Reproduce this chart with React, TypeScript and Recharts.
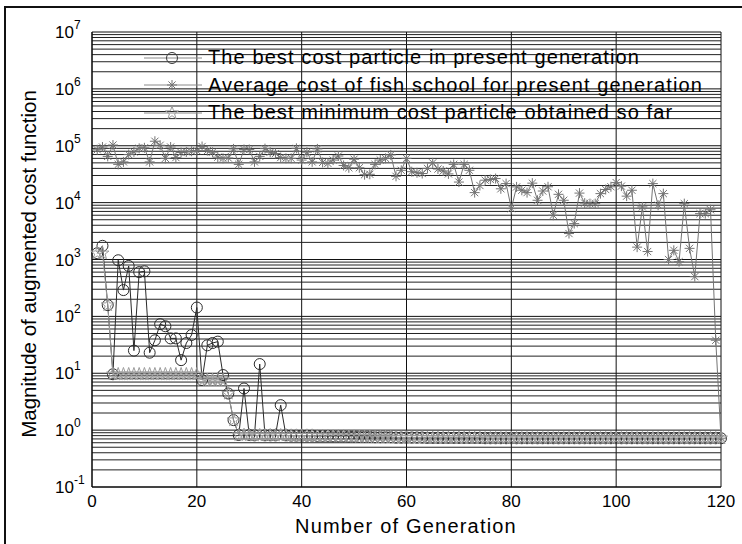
import React from "react";
import {
  LineChart,
  Line,
  XAxis,
  YAxis,
  CartesianGrid,
  ReferenceLine,
  Legend,
  Label
} from "recharts";

const FONT = '"Liberation Sans", Arial, Helvetica, sans-serif';

// generation index 1..120
const generations = Array.from({ length: 120 }, (_, i) => i + 1);

// best cost particle in each generation
const bestInGeneration = [
  1290, 1740, 158, 9.6, 970, 290, 770, 25, 600, 620,
  23, 38, 73, 67, 41, 41, 17, 34, 47, 143,
  7.6, 31, 34, 36, 9.3, 4.4, 1.5, 0.82, 5.4, 0.82,
  0.81, 14.5, 0.81, 0.81, 0.81, 2.75, 0.81, 0.8, 0.8, 0.8,
  0.8, 0.8, 0.79, 0.79, 0.79, 0.78, 0.78, 0.78, 0.77, 0.77,
  0.76, 0.76, 0.76, 0.75, 0.75, 0.75, 0.75, 0.74, 0.74, 0.74,
  0.74, 0.74, 0.74, 0.73, 0.73, 0.73, 0.73, 0.73, 0.73, 0.73,
  0.73, 0.73, 0.73, 0.73, 0.72, 0.72, 0.72, 0.72, 0.72, 0.72,
  0.72, 0.72, 0.72, 0.72, 0.72, 0.72, 0.72, 0.72, 0.72, 0.72,
  0.72, 0.72, 0.72, 0.72, 0.72, 0.72, 0.72, 0.72, 0.72, 0.72,
  0.72, 0.72, 0.72, 0.72, 0.72, 0.72, 0.72, 0.72, 0.72, 0.72,
  0.72, 0.72, 0.72, 0.72, 0.72, 0.72, 0.72, 0.72, 0.72, 0.72
];

// average cost of the fish school
const averageCost = [
  85000, 95000, 65000, 103000, 47000, 52000, 70000, 78000, 90000, 92000,
  52000, 120000, 102000, 60000, 95000, 62000, 76000, 78000, 80000, 82000,
  97000, 82000, 77000, 63000, 60000, 61000, 88000, 47000, 86000, 86000,
  52000, 65000, 89000, 77000, 73000, 62000, 60000, 60000, 90000, 56000,
  77000, 52000, 88000, 51000, 49000, 56000, 66000, 45000, 41000, 58000,
  41000, 31000, 31500, 47000, 56000, 60000, 69000, 29000, 37000, 60000,
  35000, 33500, 32500, 40000, 50000, 39000, 36000, 32000, 47000, 23000,
  47000, 37000, 15000, 20000, 24800, 25500, 26500, 17500, 21600, 7850,
  18900, 16500, 15000, 22000, 11000, 16000, 19000, 6000, 14000, 11000,
  2860, 4280, 14700, 9800, 9600, 9600, 14400, 17000, 19000, 22500,
  19500, 13000, 16500, 1650, 8400, 1380, 21600, 9000, 14400, 1000,
  1450, 915, 9600, 1570, 500, 6400, 6400, 7500, 38, 0.72
];

// best minimum cost obtained so far
const bestSoFar = [
  1290, 1290, 158, 9.6, 9.6, 9.6, 9.6, 9.6, 9.6, 9.6,
  9.6, 9.6, 9.6, 9.6, 9.6, 9.6, 9.6, 9.6, 9.6, 9.6,
  7.6, 7.6, 7.6, 7.6, 7.6, 4.4, 1.5, 0.82, 0.82, 0.82,
  0.81, 0.81, 0.81, 0.81, 0.81, 0.81, 0.81, 0.8, 0.8, 0.8,
  0.8, 0.8, 0.79, 0.79, 0.79, 0.78, 0.78, 0.78, 0.77, 0.77,
  0.76, 0.76, 0.76, 0.75, 0.75, 0.75, 0.75, 0.74, 0.74, 0.74,
  0.74, 0.74, 0.74, 0.73, 0.73, 0.73, 0.73, 0.73, 0.73, 0.73,
  0.73, 0.73, 0.73, 0.73, 0.72, 0.72, 0.72, 0.72, 0.72, 0.72,
  0.72, 0.72, 0.72, 0.72, 0.72, 0.72, 0.72, 0.72, 0.72, 0.72,
  0.72, 0.72, 0.72, 0.72, 0.72, 0.72, 0.72, 0.72, 0.72, 0.72,
  0.72, 0.72, 0.72, 0.72, 0.72, 0.72, 0.72, 0.72, 0.72, 0.72,
  0.72, 0.72, 0.72, 0.72, 0.72, 0.72, 0.72, 0.72, 0.72, 0.72
];

const xTicks = [0, 20, 40, 60, 80, 100, 120];
const yTicks = [1e-1, 1e0, 1e1, 1e2, 1e3, 1e4, 1e5, 1e6, 1e7];

const seriesNames = [
  "The best cost particle in present generation",
  "Average cost of fish school for present generation",
  "The best minimum cost particle obtained so far"
];

const data = generations.map((gen, i) => ({
  gen,
  best: bestInGeneration[i],
  avg: averageCost[i],
  sofar: bestSoFar[i]
}));

// minor log grid: 2..9 x 10^k inside each decade
const minorGrid: number[] = [];
for (let k = -1; k < 7; k++) {
  for (let m = 2; m <= 9; m++) minorGrid.push(m * Math.pow(10, k));
}

const COLORS = { best: "#2a2a2a", avg: "#747474", sofar: "#9c9c9c" };

const asteriskPath = (cx: number, cy: number, r = 5, d = 3.6) =>
  `M${cx - r},${cy}H${cx + r}M${cx},${cy - r}V${cy + r}` +
  `M${cx - d},${cy - d}L${cx + d},${cy + d}M${cx - d},${cy + d}L${cx + d},${cy - d}`;

const pentagramPath = (cx: number, cy: number, R = 6.8, r = 2.7) => {
  let p = "";
  for (let i = 0; i < 10; i++) {
    const a = -Math.PI / 2 + (i * Math.PI) / 5;
    const rad = i % 2 === 0 ? R : r;
    p += `${i === 0 ? "M" : "L"}${cx + rad * Math.cos(a)},${cy + rad * Math.sin(a)}`;
  }
  return p + "Z";
};

const AsteriskDot = (props: any) => {
  const { cx, cy, index } = props;
  if (cx == null || cy == null) return <g key={index} />;
  return <path key={index} d={asteriskPath(cx, cy)} stroke={COLORS.avg} strokeWidth={1} fill="none" />;
};

const StarDot = (props: any) => {
  const { cx, cy, index } = props;
  if (cx == null || cy == null) return <g key={index} />;
  return <path key={index} d={pentagramPath(cx, cy)} stroke={COLORS.sofar} strokeWidth={1} fill="none" />;
};

const PowerTick = ({ y, payload }: any) => {
  const exp = Math.round(Math.log10(payload.value));
  return (
    <text x={55} y={y + 6} fontSize={17} fill="#000" fontFamily={FONT}>
      10
      <tspan dy={-9} fontSize={12}>{exp}</tspan>
    </text>
  );
};

const GenTick = ({ x, payload }: any) => (
  <text x={x} y={507} fontSize={17} fill="#000" textAnchor="middle" fontFamily={FONT}>
    {payload.value}
  </text>
);

const renderLegend = () => {
  const marks = [
    <circle cx={29} cy={10} r={5.5} stroke="#3a3a3a" fill="none" />,
    <path d={asteriskPath(29, 10)} stroke={COLORS.avg} fill="none" />,
    <path d={pentagramPath(29, 10)} stroke={COLORS.sofar} fill="none" />
  ];
  return (
    <div style={{ fontFamily: FONT, fontSize: 20, letterSpacing: "1.1px", color: "#000" }}>
      {seriesNames.map((name, i) => (
        <div key={name} style={{ display: "flex", alignItems: "center", height: 27.5, whiteSpace: "nowrap" }}>
          <svg width={60} height={20} style={{ display: "block" }}>
            <line x1={1} y1={10} x2={59} y2={10} stroke="#8a8a8a" strokeWidth={1} />
            {marks[i]}
          </svg>
          <span style={{ marginLeft: 5 }}>{name}</span>
        </div>
      ))}
    </div>
  );
};

export default function App() {
  return (
    <div style={{ position: "absolute", left: 0, top: 0, width: 742, height: 544, background: "#fff" }}>
      <LineChart
        width={742}
        height={544}
        data={data}
        margin={{ top: 32, right: 21, left: 32, bottom: 0 }}
      >
        <CartesianGrid stroke="#111" strokeWidth={1} />
        {minorGrid.map((v) => (
          <ReferenceLine key={v} y={v} stroke="#222" strokeWidth={1} />
        ))}
        <XAxis
          type="number"
          dataKey="gen"
          domain={[0, 120]}
          ticks={xTicks}
          height={57}
          tickLine={false}
          axisLine={{ stroke: "#000" }}
          tick={<GenTick />}
          interval={0}
        >
          <Label
            content={() => (
              <text
                x={406}
                y={533}
                textAnchor="middle"
                fontSize={20}
                letterSpacing="1.2px"
                fill="#000"
                fontFamily={FONT}
              >
                Number of Generation
              </text>
            )}
          />
        </XAxis>
        <YAxis
          scale="log"
          domain={[0.1, 1e7]}
          ticks={yTicks}
          width={60}
          tickLine={false}
          axisLine={{ stroke: "#000" }}
          tick={<PowerTick />}
          interval={0}
          allowDataOverflow
        >
          <Label
            content={() => (
              <text
                transform="rotate(-90)"
                x={-264}
                y={36}
                textAnchor="middle"
                fontSize={20.5}
                fill="#000"
                fontFamily={FONT}
              >
                Magnitude of augmented cost function
              </text>
            )}
          />
        </YAxis>
        <Legend
          layout="horizontal"
          verticalAlign="middle"
          align="center"
          content={renderLegend}
          wrapperStyle={{ left: 143, top: 44, width: "auto", height: "auto" }}
        />
        <Line
          type="linear"
          dataKey="best"
          stroke={COLORS.best}
          strokeWidth={1}
          dot={{ r: 5.5, stroke: COLORS.best, strokeWidth: 1, fill: "none" }}
          activeDot={false}
          isAnimationActive={false}
        />
        <Line
          type="linear"
          dataKey="avg"
          stroke={COLORS.avg}
          strokeWidth={1}
          dot={AsteriskDot}
          activeDot={false}
          isAnimationActive={false}
        />
        <Line
          type="linear"
          dataKey="sofar"
          stroke={COLORS.sofar}
          strokeWidth={1}
          dot={StarDot}
          activeDot={false}
          isAnimationActive={false}
        />
      </LineChart>
      <div
        style={{
          position: "absolute",
          left: 4,
          top: 6,
          width: 760,
          height: 560,
          borderLeft: "2px solid #111",
          borderTop: "2px solid #111",
          pointerEvents: "none"
        }}
      />
    </div>
  );
}
